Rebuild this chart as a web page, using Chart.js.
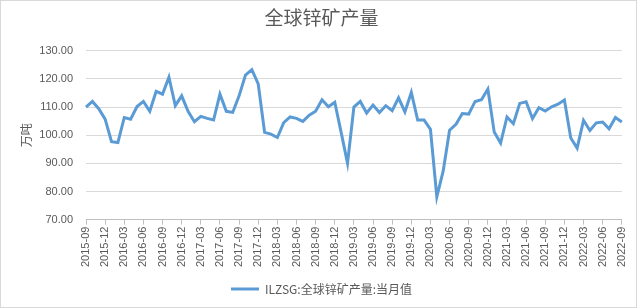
<!DOCTYPE html>
<html>
<head>
<meta charset="utf-8">
<script src="https://cdn.jsdelivr.net/npm/chart.js@4/dist/chart.umd.min.js"></script>
<style>
html,body{margin:0;padding:0;background:#fff;}
#wrap{width:637px;height:308px;position:relative;}
</style>
</head>
<body>
<div id="wrap"><canvas id="c" width="637" height="308"></canvas></div>
<script>
const startYear = 2015, startMonth = 9;
const values = [
 110, 112, 109.4, 105.7, 97.7, 97.4, 106.3, 105.7, 110.2, 112,
 108.5, 115.6, 114.6, 120.6, 110.5, 114, 108.5, 104.8, 106.7, 106,
 105.4, 114.6, 108.5, 108.1, 114, 121.4, 123.3, 118.2, 101, 100.4,
 99.2, 104.5, 106.5, 106, 104.9, 107.1, 108.5, 112.6, 110.1, 111.7,
 101, 90, 110, 112, 107.9, 110.7, 108.1, 110.5, 108.7, 113.3,
 108.3, 115.2, 105.4, 105.4, 102.1, 78.1, 87.3, 101.8, 103.9, 107.7,
 107.5, 112, 112.6, 116.4, 101.1, 97.2, 106.5, 104.1, 111.3, 111.9,
 105.9, 109.8, 108.6, 110.1, 111, 112.5, 99, 95.4, 105.3, 101.7,
 104.4, 104.7, 102.3, 106.3, 104.7
];
const categories = [];
for (let i = 0; i < values.length; i++) {
  const m0 = startMonth - 1 + i;
  const y = startYear + Math.floor(m0 / 12);
  const m = (m0 % 12) + 1;
  categories.push(y + '-' + (m < 10 ? '0' + m : m));
}
const yTicks = [70, 80, 90, 100, 110, 120, 130];
const seriesName = 'ILZSG:全球锌矿产量:当月值';
const titleText = '全球锌矿产量';
const yTitle = '万吨';

const FONT = "'Liberation Sans', Arial, 'Noto Sans CJK SC', sans-serif";
const CJK = "'Noto Sans CJK SC', 'Liberation Sans', sans-serif";
const GRAY = '#595959';

const borderPlugin = {
  id: 'outerBorder',
  afterDraw(chart) {
    const ctx = chart.ctx;
    ctx.save();
    ctx.strokeStyle = '#d9d9d9';
    ctx.lineWidth = 1;
    ctx.strokeRect(0.5, 0.5, chart.width - 1, chart.height - 1);
    ctx.restore();
  }
};

new Chart(document.getElementById('c'), {
  type: 'line',
  data: {
    labels: categories,
    datasets: [{
      label: seriesName,
      data: values,
      borderColor: '#5b9bd5',
      backgroundColor: '#5b9bd5',
      borderWidth: 3,
      pointRadius: 0,
      tension: 0,
      fill: false
    }]
  },
  plugins: [borderPlugin],
  options: {
    responsive: false,
    animation: false,
    devicePixelRatio: 1,
    layout: { padding: { left: 19, right: 13, top: 5, bottom: 3 } },
    plugins: {
      title: {
        display: true,
        text: titleText,
        color: GRAY,
        font: { family: CJK, size: 19, weight: 'normal' },
        padding: { top: 1, bottom: 22 }
      },
      legend: {
        position: 'bottom',
        labels: {
          color: GRAY,
          font: { family: CJK, size: 12 },
          boxWidth: 28,
          boxHeight: 3,
          padding: 6,
          generateLabels(chart) {
            return chart.data.datasets.map((ds, i) => ({
              text: ds.label,
              fillStyle: ds.borderColor,
              strokeStyle: ds.borderColor,
              lineWidth: 0,
              fontColor: GRAY,
              hidden: false,
              datasetIndex: i
            }));
          }
        }
      },
      tooltip: { enabled: false }
    },
    scales: {
      x: {
        offset: false,
        border: { display: true, color: '#bfbfbf' },
        grid: {
          drawOnChartArea: false,
          drawTicks: true,
          tickLength: 5,
          color: (ctx) => (ctx.index % 3 === 0 ? '#bfbfbf' : 'rgba(0,0,0,0)')
        },
        ticks: {
          autoSkip: false,
          maxRotation: 90,
          minRotation: 90,
          color: GRAY,
          padding: 2,
          font: { family: FONT, size: 11 },
          callback: function (val, idx) { return idx % 3 === 0 ? categories[idx] : ''; }
        },
        afterFit(scale) { scale.height += 8; }
      },
      y: {
        min: yTicks[0],
        max: yTicks[yTicks.length - 1],
        border: { display: false },
        grid: { color: '#d9d9d9', drawTicks: false },
        afterBuildTicks(axis) { axis.ticks = yTicks.map(v => ({ value: v })); },
        afterFit(scale) { scale.width = 67; },
        ticks: {
          color: GRAY,
          padding: 13,
          font: { family: FONT, size: 11 },
          callback: (v) => Number(v).toFixed(2)
        },
        title: {
          display: true,
          text: yTitle,
          color: GRAY,
          font: { family: CJK, size: 12 },
          padding: { top: 0, bottom: 4 }
        }
      }
    }
  }
});
</script>
</body>
</html>
